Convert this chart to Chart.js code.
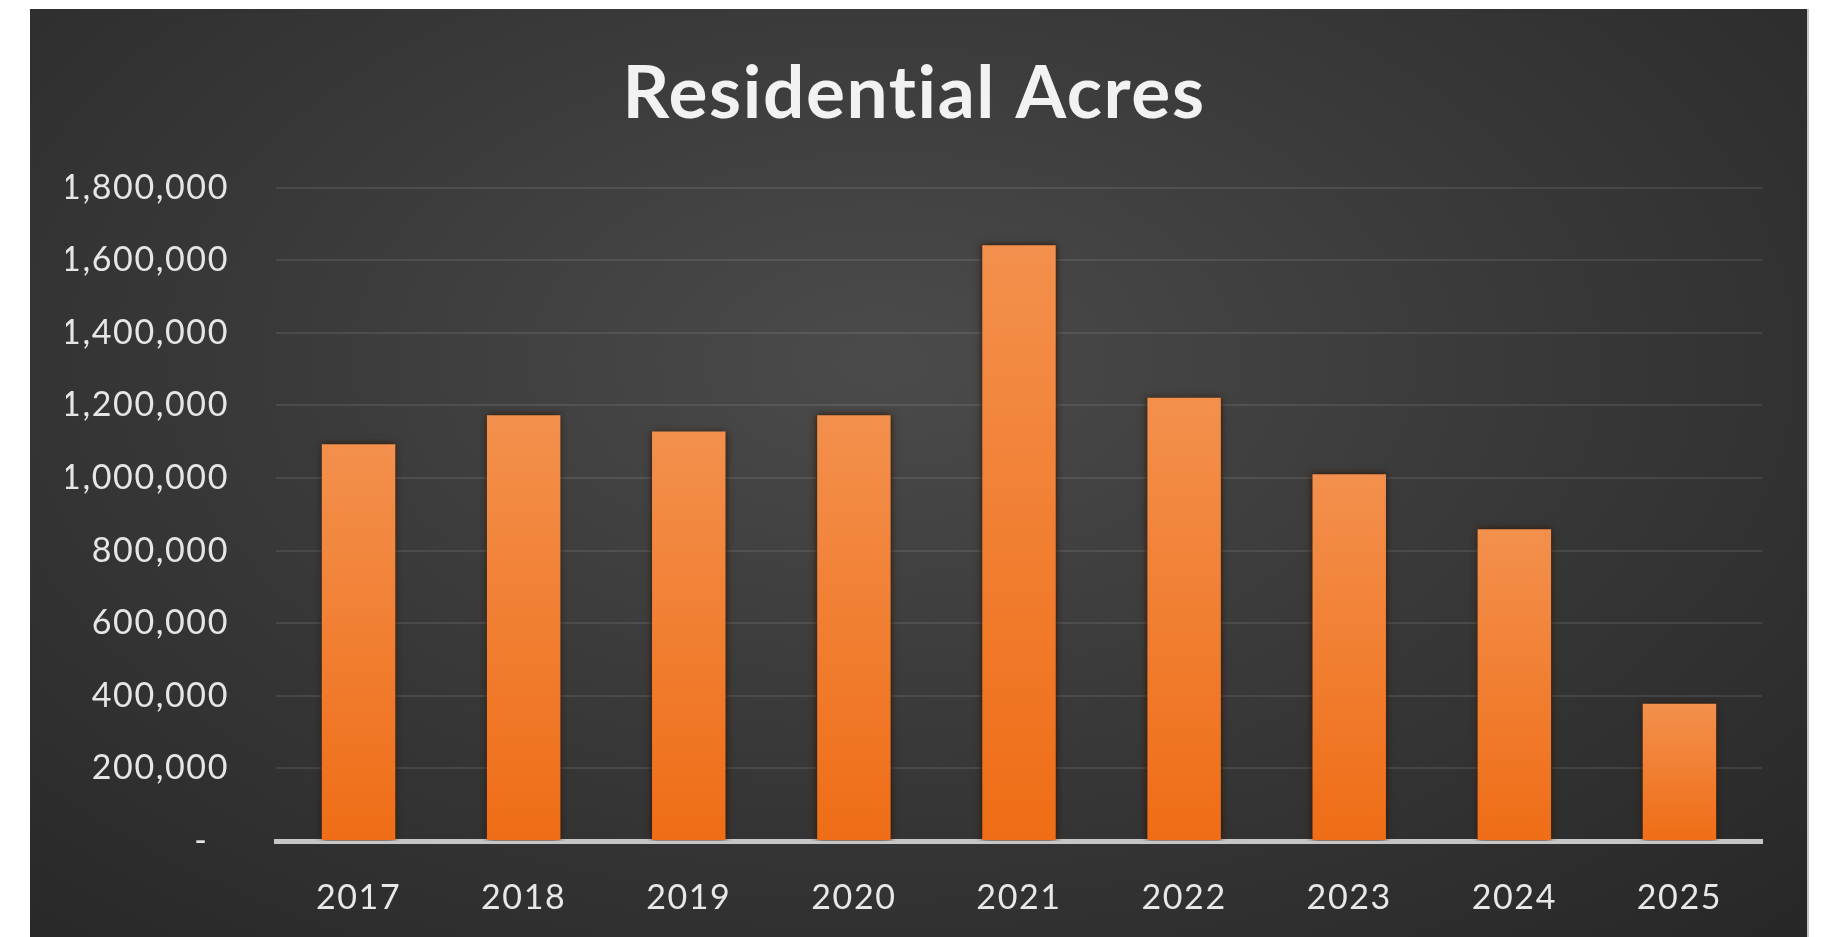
<!DOCTYPE html>
<html>
<head>
<meta charset="utf-8">
<title>Residential Acres</title>
<script src="https://cdn.jsdelivr.net/npm/chart.js@4/dist/chart.umd.min.js"></script>
<style>
  html, body { margin: 0; padding: 0; background: #fff; }
  #panel {
    position: absolute;
    left: 30px; top: 9px;
    width: 1777px; height: 928px;
    background: radial-gradient(ellipse 75% 85% at 48% 38%, #4b4b4b 0%, #3a3a3a 45%, #272727 100%);
    border-right: 2px solid #c4c4c4;
  }
</style>
</head>
<body>
<div id="panel"><canvas id="acresChart"></canvas></div>
<script>
const years = ["2017", "2018", "2019", "2020", "2021", "2022", "2023", "2024", "2025"];
const acres = [1093000, 1173000, 1128000, 1173000, 1641000, 1221000, 1010000, 859000, 378000];
const yTicks = [0, 200000, 400000, 600000, 800000, 1000000, 1200000, 1400000, 1600000, 1800000];

const FONT = "Lato, 'Open Sans', sans-serif";

// each bar gets its own top-to-bottom gradient, light at the top
function barFill(ctx) {
  const chart = ctx.chart;
  const y = chart.scales.y;
  if (!chart.chartArea || !y || ctx.raw == null) return "#f07a2c";
  const top = y.getPixelForValue(ctx.raw);
  const bottom = y.getPixelForValue(0);
  const g = chart.ctx.createLinearGradient(0, top, 0, bottom);
  g.addColorStop(0, "#f3904d");
  g.addColorStop(1, "#ef6d16");
  return g;
}

const fmt = v => v === 0 ? "-  " : v.toLocaleString("en-US");

// slightly tracked text everywhere, and a soft dark halo round the bars
const styling = {
  id: "styling",
  beforeDraw(chart) {
    chart.ctx.letterSpacing = "1.6px";
  },
  beforeDatasetsDraw(chart) {
    const c = chart.ctx;
    c.save();
    c.shadowColor = "rgba(45,18,0,0.95)";
    c.shadowBlur = 7;
  },
  afterDatasetsDraw(chart) {
    chart.ctx.restore();
  },
};

new Chart(document.getElementById("acresChart"), {
  type: "bar",
  data: {
    labels: years,
    datasets: [{
      label: "Residential Acres",
      data: acres,
      backgroundColor: barFill,
      borderWidth: 0,
      barPercentage: 0.445,
      categoryPercentage: 1,
    }],
  },
  plugins: [styling],
  options: {
    responsive: true,
    maintainAspectRatio: false,
    animation: false,
    // left/right padding chosen so the title sits centred over the panel
    layout: { padding: { left: 36, right: 45, top: 0, bottom: 0 } },
    plugins: {
      legend: { display: false },
      tooltip: { enabled: false },
      title: {
        display: true,
        text: "Residential Acres",
        color: "#f2f2f2",
        font: { family: FONT, size: 73, weight: "bold", lineHeight: 1.2 },
        padding: { top: 42, bottom: 49 },
      },
    },
    scales: {
      x: {
        grid: { display: false },
        border: { display: true, color: "#c6c6c6", width: 5 },
        ticks: {
          color: "#e8e8e8",
          font: { family: FONT, size: 34 },
          padding: 29,
          maxRotation: 0,
        },
        afterFit: s => { s.height = 96; },
      },
      y: {
        min: 0,
        max: 1800000,
        afterBuildTicks: s => { s.ticks = yTicks.map(v => ({ value: v })); },
        grid: { color: "rgba(255,255,255,0.09)", lineWidth: 2, drawTicks: false },
        border: { display: false },
        ticks: {
          color: "#e6e6e6",
          font: { family: FONT, size: 34 },
          padding: 47,
          callback: fmt,
        },
        afterFit: s => { s.width = 210; },
      },
    },
  },
});
</script>
</body>
</html>
